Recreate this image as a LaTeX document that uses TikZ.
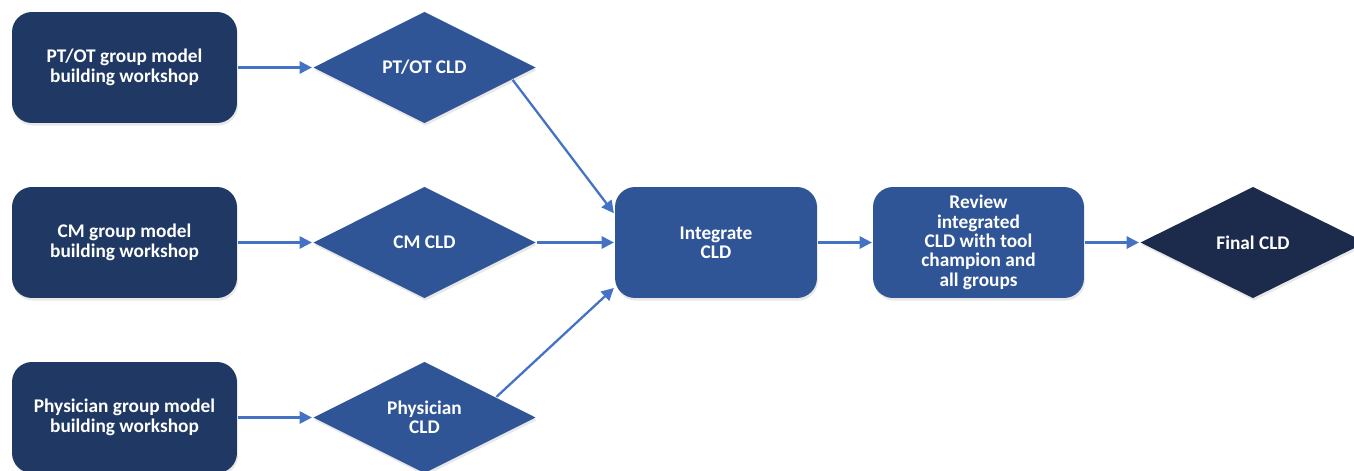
\documentclass[tikz,border=0pt]{standalone}
\usepackage{fontspec}
\setmainfont{Carlito}
\usetikzlibrary{arrows.meta,shapes.geometric,shadows,backgrounds}
\definecolor{darknavy}{HTML}{203864}
\definecolor{midblue}{HTML}{2F5597}
\definecolor{finalnavy}{HTML}{1C2A4B}
\definecolor{arrowblue}{HTML}{4472C4}

\begin{document}
\begin{tikzpicture}[x=0.02cm,y=-0.02cm,->,>={Triangle[length=7pt,width=7pt]},line width=1.3pt,
  base/.style={text=white,font=\bfseries\fontsize{11}{11}\selectfont,align=center,
    drop shadow={shadow xshift=0.6pt,shadow yshift=-1.5pt,opacity=0.18}},
  work node/.style={base,rectangle,rounded corners=0.4cm,fill=darknavy,minimum width=4.5cm,minimum height=2.22cm},
  step node/.style={base,rectangle,rounded corners=0.4cm,fill=midblue,minimum height=2.22cm},
  cld node/.style={base,diamond,inner sep=0pt,fill=midblue,minimum width=4.46cm,minimum height=2.24cm},
  link/.style={draw=arrowblue,line width=1.3pt}]
  \useasboundingbox (0,0) rectangle (1354,470);
		\node[work node] (ptot) at (124.5,67.5) {PT/OT group model\\building workshop};
		\node[work node] (cm) at (124.5,242.5) {CM group model\\building workshop};
		\node[work node] (phys) at (124.5,417.5) {Physician group model\\building workshop};
		\node[cld node] (ptotcld) at (424.5,67.5) {PT/OT CLD};
		\node[cld node] (cmcld) at (424.5,242.5) {CM CLD};
		\node[cld node] (physcld) at (424.5,417.5) {Physician\\CLD};
		\node[step node,minimum width=4.04cm] (integ) at (716,242.5) {Integrate\\CLD};
		\node[step node,minimum width=4.22cm] (review) at (978.5,242.5) {Review\\integrated\\CLD with tool\\champion and\\all groups};
		\node[cld node,fill=finalnavy,minimum width=4.52cm] (final) at (1253,242.5) {Final CLD};
		
		% links sit under the shapes
		\begin{scope}[on background layer]
		\path[every edge/.style=link]
		    (ptot) edge (ptotcld)
		    (cm) edge (cmcld)
		    (phys) edge (physcld)
		    (ptotcld.-8) edge (integ.164)
		    (cmcld) edge (integ)
		    (physcld.16) edge (integ.204)
		    (integ) edge (review)
		    (review) edge (final);
		\end{scope}
\end{tikzpicture}
\end{document}
